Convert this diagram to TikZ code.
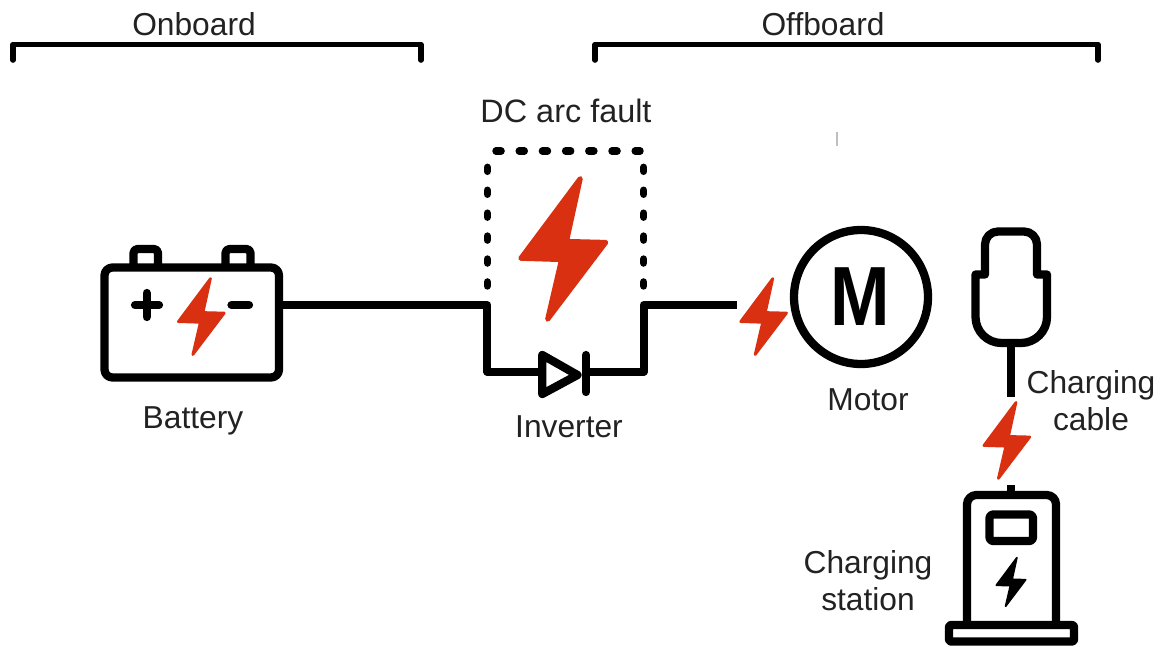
\documentclass[tikz,border=0pt]{standalone}
\usepackage{fontspec}
\setmainfont{Liberation Sans}
\definecolor{boltred}{RGB}{217,48,17}
\definecolor{txt}{RGB}{34,34,34}
\tikzset{
  x=0.75pt,y=-0.75pt,
  wire/.style={line width=6.2pt,line join=round,draw=black},
  icon/.style={line width=6.2pt,line join=round,draw=black},
  bracket/.style={line width=4.2pt,line join=round,line cap=round,draw=black},
  dotsv/.style={line width=5.6pt,line cap=round,draw=black,dash pattern=on 3pt off 14.2pt},
  dotsh/.style={line width=5.6pt,line cap=round,draw=black,dash pattern=on 3.8pt off 13.6pt},
  lab/.style={text=txt,font=\fontsize{23.8}{28}\selectfont,align=center,inner sep=0pt},
}
\newcommand{\boltat}[4]{%
  \pgfmathsetmacro{\boltlw}{3.75*#3}%
  \fill[#4,draw=#4,line join=round,line width=\boltlw pt,shift={(#1,#2)},xscale=#3,yscale=#3]
    (17,-70.5) -- (3.2,-7.6) -- (42.5,-6.6) -- (-15.7,70.3) -- (-1.8,10.6) -- (-42.5,9.3) -- cycle;}
\begin{document}
\begin{tikzpicture}
\useasboundingbox (0,0) rectangle (1162,646);
% brackets
\coordinate (ona) at (13,60); \coordinate (onb) at (13,44.5); \coordinate (onc) at (421,44.5); \coordinate (ond) at (421,60);
\draw[bracket] (ona) -- (onb) -- (onc) -- (ond);
\coordinate (ofa) at (595,60); \coordinate (ofb) at (595,44.5); \coordinate (ofc) at (1098,44.5); \coordinate (ofd) at (1098,60);
\draw[bracket] (ofa) -- (ofb) -- (ofc) -- (ofd);
\node[lab] (onboard) at (194,24) {Onboard};
\node[lab] (offboard) at (823,24) {Offboard};
\node[lab,font=\fontsize{24.3}{28}\selectfont] (dcarc) at (566,111) {DC arc fault};
% battery
\draw[icon,rounded corners=3pt] (133.5,267) -- (133.5,249) -- (158,249) -- (158,267);
\draw[icon,rounded corners=3pt] (225.5,267) -- (225.5,249) -- (250.5,249) -- (250.5,267);
\node[draw,icon,rounded corners=6pt,inner sep=0pt,outer sep=0pt,minimum width=130.9pt,minimum height=82.5pt] (battery) at (191.75,322.5) {};
\draw[line width=6.2pt,line cap=round] (135,305) -- (159,305) (146.7,293) -- (146.7,317);
\draw[line width=6.2pt,line cap=round] (231.5,305) -- (249,305);
\boltat{201.3}{316.6}{0.54}{boltred}
\node[lab] (batterylabel) at (193,421) {Battery};
% arc fault box
\coordinate (jl) at (487.3,305);
\coordinate (jr) at (643.7,305);
\coordinate (dl) at (487.3,371.7);
\coordinate (dr) at (643.7,371.7);
\draw[dotsv] (487.3,167.3) -- (487.3,290);
\draw[dotsv] (643.7,167.3) -- (643.7,290);
\draw[dotsh] (496,151) -- (640,151);
\boltat{563.3}{249}{1}{boltred}
% circuit
\coordinate (battout) at (279,305);
\coordinate (wireend) at (736.7,305);
\coordinate (dtl) at (542.3,371.7);
\coordinate (dtr) at (586,371.7);
\draw[wire] (battout) -- (jl) -- (dl) -- (dtl);
\draw[wire] (dtr) -- (dr) -- (jr) -- (wireend);
\coordinate (dia) at (542.3,355);
\coordinate (dib) at (542.3,394);
\coordinate (dic) at (577.5,375);
\draw[wire,line cap=round] (dia) -- (dic) -- (dib) -- cycle;
\coordinate (bara) at (586,355);
\coordinate (barb) at (586,392);
\draw[wire,line cap=round] (bara) -- (barb);
\node[lab] (inverter) at (569,427) {Inverter};
% motor
\boltat{763.6}{316.6}{0.54}{boltred}
\node[draw,icon,circle,inner sep=0pt,outer sep=0pt,minimum size=100.5pt] (motor) at (861,297) {};
\node[inner sep=0pt,font=\fontsize{63}{63}\bfseries\selectfont,xscale=0.85] (mletter) at (860.4,296.7) {M};
\node[lab] (motorlabel) at (868,400) {Motor};
% faint mark
\coordinate (ma) at (837,132); \coordinate (mb) at (837,146);
\draw[black!25,line width=0.8pt] (ma) -- (mb);
% plug
\coordinate (plugbottom) at (1011,343);
\draw[icon] (plugbottom) -- (1001.5,343) .. controls (987.2,343) and (975.5,331.3) .. (975.5,317) -- (975.5,274.5) -- (985,274.5) -- (985,244.5) .. controls (985,237.3) and (990.8,231.5) .. (998,231.5) -- (1024,231.5) .. controls (1031.2,231.5) and (1037,237.3) .. (1037,244.5) -- (1037,274.5) -- (1047,274.5) -- (1047,317) .. controls (1047,331.3) and (1035.3,343) .. (1021,343) -- cycle;
\coordinate (cableend) at (1011,397);
\draw[wire] (plugbottom) -- (cableend);
\node[lab] (cablelabel) at (1091,400.5) {Charging\\cable};
\boltat{1006.8}{440.5}{0.54}{boltred}
% station
\coordinate (stubtop) at (1011,485);
\coordinate (stationtop) at (1011,495);
\draw[wire] (stubtop) -- (stationtop);
\draw[icon,rounded corners=7pt] (967,626) -- (967,495) -- (1056,495) -- (1056,626);
\node[draw,icon,rounded corners=2.5pt,inner sep=0pt,outer sep=0pt,minimum width=32.6pt,minimum height=19.9pt] (display) at (1011.25,527.75) {};
\boltat{1011}{582}{0.345}{black}
\node[draw,icon,fill=white,rounded corners=1.5pt,inner sep=0pt,outer sep=0pt,minimum width=93.75pt,minimum height=12.4pt] (base) at (1011.5,633.25) {};
\node[lab] (stationlabel) at (868,580.5) {Charging\\station};
\end{tikzpicture}
\end{document}
